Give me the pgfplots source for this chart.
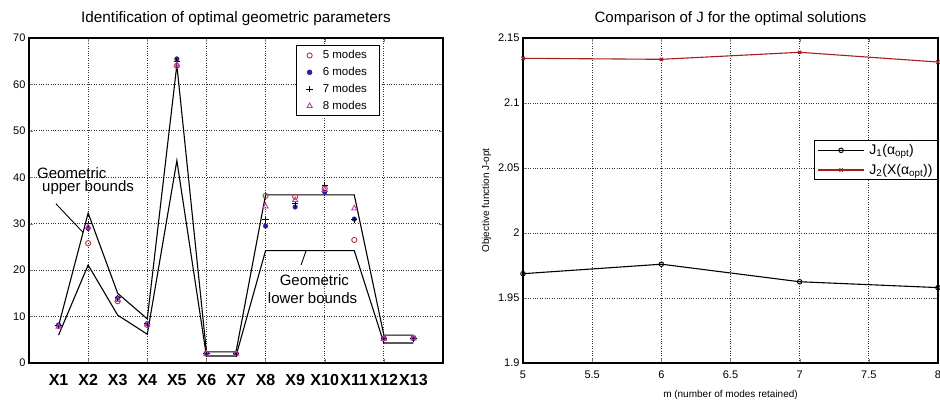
\documentclass[border=0pt]{standalone}
\usepackage{fontspec}
\setmainfont{Liberation Sans}
\usepackage{pgfplots}
\pgfplotsset{compat=1.18}

\definecolor{cfive}{RGB}{175,60,60}
\definecolor{csix}{RGB}{40,30,160}
\definecolor{ceight}{RGB}{195,60,175}
\definecolor{jtwo}{RGB}{165,30,30}

\pgfplotsset{
  matlab/.style={
    scale only axis,
    axis line style={line width=1.1pt},
    tick align=inside, tick pos=both,
    major tick length=4pt,
    grid style={dotted, black!80, line width=0.8pt},
    /pgf/number format/assume math mode=true,
    tick label style={font=\fontsize{11}{11}\selectfont},
  },
}

\begin{document}
\begin{tikzpicture}
% left panel
\begin{axis}[matlab,
  at={(0pt,0pt)}, anchor=south west,
  width=414pt, height=325pt,
  xmin=0, xmax=14, ymin=0, ymax=70,
  ytick={0,10,...,70}, ymajorgrids,
  xtick={2,4,...,12}, xmajorgrids, xticklabels={},
  extra x ticks={1,...,13},
  extra x tick labels={X1,X2,X3,X4,X5,X6,X7,X8,X9,X10,X11,X12,X13},
  extra x tick style={major tick length=0pt, grid=none,
    tick label style={font=\bfseries\fontsize{16}{16}\selectfont, yshift=-8pt}},
  title={Identification of optimal geometric parameters},
  title style={font=\fontsize{15.3}{16}\selectfont, yshift=3pt},
  legend style={at={(rel axis cs:0.645,0.978)}, anchor=north west,
    font=\fontsize{11.5}{12}\selectfont, draw=black, line width=0.8pt,
    row sep=3pt, inner xsep=10pt, inner ysep=3pt},
  legend cell align=left,
]
\addplot[black, line width=1.1pt, forget plot] coordinates {
  (1,8) (2,32.3) (3,15) (4,9.5) (5,64.2) (6,2.4) (7,2.4)
  (8,36.2) (9,36.2) (10,36.2) (11,36.2) (12,6) (13,6)};
\addplot[black, line width=1.1pt, forget plot] coordinates {
  (1,6) (2,21.1) (3,10.3) (4,6.2) (5,43.6) (6,1.5) (7,1.5)
  (8,24.2) (9,24.2) (10,24.2) (11,24.2) (12,4.3) (13,4.3)};

\addplot[only marks, mark=o, mark size=2.6pt, cfive, line width=0.9pt] coordinates {
  (1,8) (2,25.8) (3,13.3) (4,8.2) (5,64) (6,2) (7,2)
  (8,36) (9,35.8) (10,37.6) (11,26.5) (12,5.3) (13,5.4)};
\addplot[only marks, mark=*, mark size=2.3pt, csix] coordinates {
  (1,8.2) (2,29) (3,14) (4,8.5) (5,65.5) (6,2.1) (7,2)
  (8,29.5) (9,33.6) (10,36.8) (11,31) (12,5.3) (13,5.3)};
\addplot[only marks, mark=+, mark size=3.2pt, black, line width=1pt] coordinates {
  (1,8) (2,30) (3,14) (4,8.4) (5,65) (6,2) (7,2)
  (8,30.8) (9,34.3) (10,38.3) (11,30.8) (12,5.3) (13,5.3)};
\addplot[only marks, mark=triangle, mark size=3pt, ceight, line width=0.9pt] coordinates {
  (1,7.8) (2,29.3) (3,13.6) (4,8.3) (5,64.2) (6,2) (7,2)
  (8,33.7) (9,35.1) (10,37.3) (11,33.3) (12,5.2) (13,5.3)};
\legend{\hspace{8pt}5 modes, \hspace{8pt}6 modes, \hspace{8pt}7 modes, \hspace{8pt}8 modes}

\node[anchor=west, font=\fontsize{15}{15}\selectfont, inner sep=0pt] at (axis cs:0.27,40.9) {Geometric};
\node[anchor=west, font=\fontsize{15}{15}\selectfont, inner sep=0pt] at (axis cs:0.44,37.7) {upper bounds};
\draw[black, line width=0.9pt] (axis cs:0.91,34.3) -- (axis cs:1.83,28.1);
\node[font=\fontsize{15}{15}\selectfont, inner sep=0pt] at (axis cs:9.65,17.9) {Geometric};
\node[font=\fontsize{15}{15}\selectfont, inner sep=0pt] at (axis cs:9.59,14.0) {lower bounds};
\draw[black, line width=0.9pt] (axis cs:9.37,24.2) -- (axis cs:9.2,21.1);
\end{axis}

% right panel
\begin{axis}[matlab,
  at={(494pt,0pt)}, anchor=south west,
  width=415pt, height=325pt,
  xmin=5, xmax=8, ymin=1.9, ymax=2.15,
  xtick={5,5.5,...,8}, ytick={1.9,1.95,...,2.15},
  grid=major,
  xticklabel style={yshift=-4pt},
  yticklabel style={/pgf/number format/.cd, fixed, precision=2},
  title={Comparison of J for the optimal solutions},
  title style={font=\fontsize{15}{16}\selectfont, yshift=3pt},
  xlabel={m (number of modes retained)},
  ylabel={Objective function J-opt},
  xlabel style={yshift=-5pt},
  label style={font=\fontsize{10}{10}\selectfont},
  legend style={at={(rel axis cs:1,0.686)}, anchor=north east,
    font=\fontsize{14}{15}\selectfont, draw=black, line width=0.9pt,
    row sep=4pt},
  legend cell align=left,
  legend image code/.code={\draw[mark repeat=2, mark phase=2, #1]
    plot coordinates {(0cm,0cm) (0.8cm,0cm) (1.6cm,0cm)};},
]
\addplot[black, line width=1.1pt, mark=o, mark size=2.3pt,
  mark options={line width=0.9pt}] coordinates {
  (5,1.9687) (6,1.976) (7,1.9625) (8,1.958)};
\addplot[jtwo, line width=1.1pt, mark=x, mark size=2.3pt] coordinates {
  (5,2.1344) (6,2.1336) (7,2.139) (8,2.1315)};
\legend{\hspace{3pt}J\textsubscript{1}(α\textsubscript{opt}), \hspace{3pt}J\textsubscript{2}(X(α\textsubscript{opt}))}
\end{axis}

\pgfresetboundingbox
\path[use as bounding box] (-29pt,-41pt) rectangle (911pt,363pt);
\end{tikzpicture}
\end{document}
